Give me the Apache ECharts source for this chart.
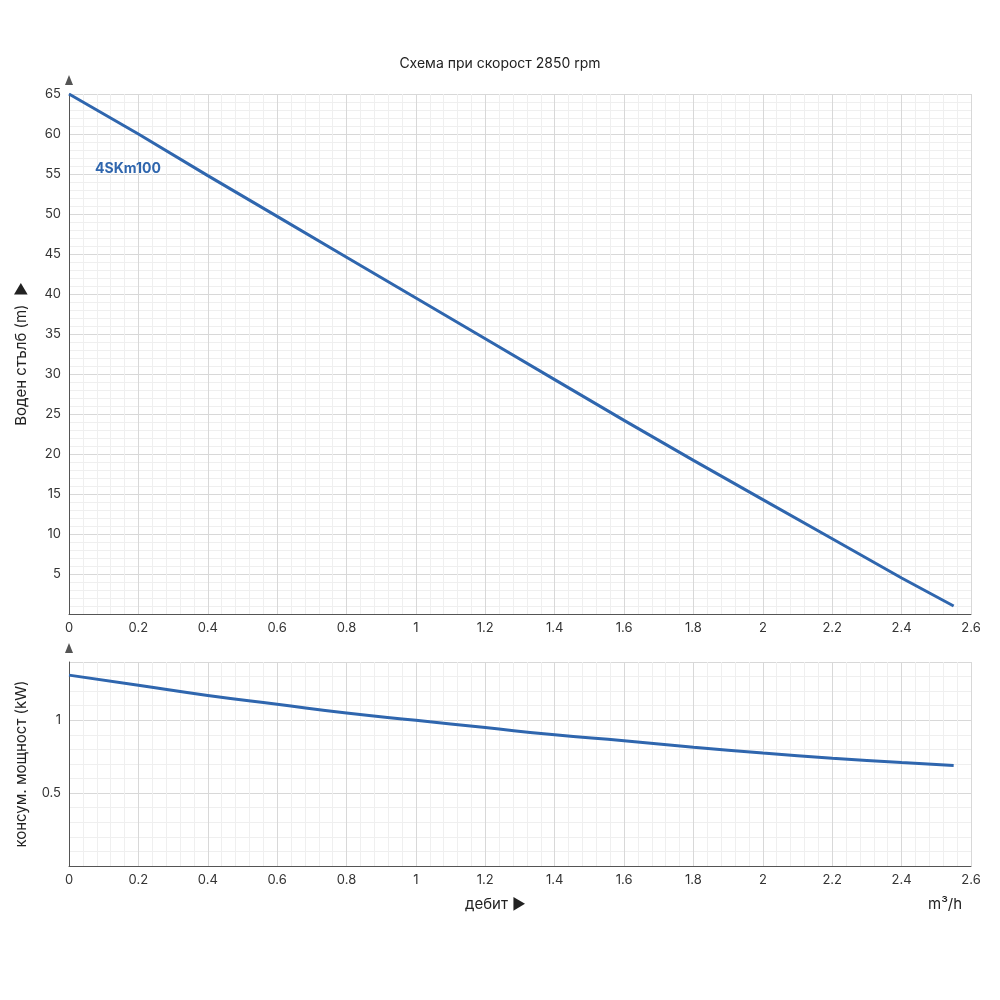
<!DOCTYPE html>
<html>
<head>
<meta charset="utf-8">
<script src="https://cdn.jsdelivr.net/npm/echarts@6/dist/echarts.min.js"></script>
<style>html,body{margin:0;background:#fff}#chart{width:1000px;height:1000px}</style>
</head>
<body>
<div id="chart"></div>
<script>
var flowHead = [0, 0.2, 0.4, 0.6, 0.8, 1, 1.2, 1.4, 1.6, 1.8, 2, 2.2, 2.4, 2.55];
var headValues = [65, 60, 54.8, 49.7, 44.6, 39.5, 34.4, 29.3, 24.2, 19.2, 14.3, 9.4, 4.5, 1];
var flowPower = [0, 0.2, 0.4, 0.6, 0.8, 1, 1.2, 1.4, 1.6, 1.8, 2, 2.2, 2.4, 2.55];
var powerValues = [1.31, 1.24, 1.17, 1.11, 1.05, 1.0, 0.95, 0.9, 0.86, 0.815, 0.775, 0.74, 0.71, 0.69];

function pairs(xs, ys){
	var out = [];
	for (var i = 0; i < xs.length; i++) out.push([xs[i], ys[i]]);
	return out;
}

var font = 'Inter';
var blue = '#2f66ae';
var axisLine = {show: true, lineStyle: {color: '#555', width: 1}, symbol: ['none', 'triangle'], symbolSize: [8, 10], symbolOffset: [0, 14]};
var split = {show: true, lineStyle: {color: '#d8d8d8'}};
var minorSplit = {show: true, lineStyle: {color: '#efefef'}};
var label = {color: '#333', fontSize: 13, fontFamily: font};

function xAxis(idx){
	return {
		type: 'value', gridIndex: idx, min: 0, max: 2.6, interval: 0.2,
		axisLine: {show: true, lineStyle: {color: '#555'}},
		axisTick: {show: false},
		axisLabel: label,
		splitLine: split,
		minorTick: {show: false, splitNumber: 5},
		minorSplitLine: minorSplit
	};
}

var dom = document.getElementById('chart');
var myChart = echarts.init(dom);
var option = {
	animation: false,
	title: {text: 'Схема при скорост 2850 rpm', left: 'center', top: 52,
		textStyle: {fontSize: 14, fontWeight: 'normal', color: '#222', fontFamily: font}},
	grid: [
		{left: 69, right: 29, top: 94, height: 520},
		{left: 69, right: 29, top: 662, height: 204}
	],
	xAxis: [xAxis(0), xAxis(1)],
	yAxis: [
		{
			type: 'value', gridIndex: 0, min: 0, max: 65, interval: 5,
			name: 'Воден стълб (m)  ►', nameLocation: 'middle', nameRotate: 90, nameGap: 40,
			nameTextStyle: {fontSize: 15, color: '#222', fontFamily: font},
			axisLine: axisLine, axisTick: {show: false},
			axisLabel: {color: '#333', fontSize: 13, fontFamily: font, formatter: function(v){ return v === 0 ? '' : v; }},
			splitLine: split,
			minorTick: {show: false, splitNumber: 5},
			minorSplitLine: minorSplit
		},
		{
			type: 'value', gridIndex: 1, min: 0, max: 1.4, interval: 0.5,
			name: 'консум. мощност (kW)', nameLocation: 'middle', nameRotate: 90, nameGap: 40,
			nameTextStyle: {fontSize: 15, color: '#222', fontFamily: font},
			axisLine: axisLine, axisTick: {show: false},
			axisLabel: {color: '#333', fontSize: 13, fontFamily: font, formatter: function(v){ return (v === 0 || v > 1) ? '' : v; }},
			splitLine: split,
			minorTick: {show: false, splitNumber: 5},
			minorSplitLine: minorSplit
		}
	],
	series: [
		{type: 'line', xAxisIndex: 0, yAxisIndex: 0, data: pairs(flowHead, headValues),
			showSymbol: false, lineStyle: {color: blue, width: 3}},
		{type: 'line', xAxisIndex: 1, yAxisIndex: 1, data: pairs(flowPower, powerValues),
			smooth: true, showSymbol: false, lineStyle: {color: blue, width: 3}}
	],
	graphic: [
		{type: 'text', left: 95, top: 162, z: 100, style: {text: '4SKm100', fill: blue, fontSize: 14, fontWeight: 'bold', fontFamily: font}},
		{type: 'text', left: 465, top: 897, style: {text: 'дебит ►', fill: '#222', fontSize: 15, fontFamily: font}},
		{type: 'text', left: 928, top: 897, style: {text: 'm³/h', fill: '#222', fontSize: 15, fontFamily: font}}
	]
};
myChart.setOption(option);
</script>
</body>
</html>
